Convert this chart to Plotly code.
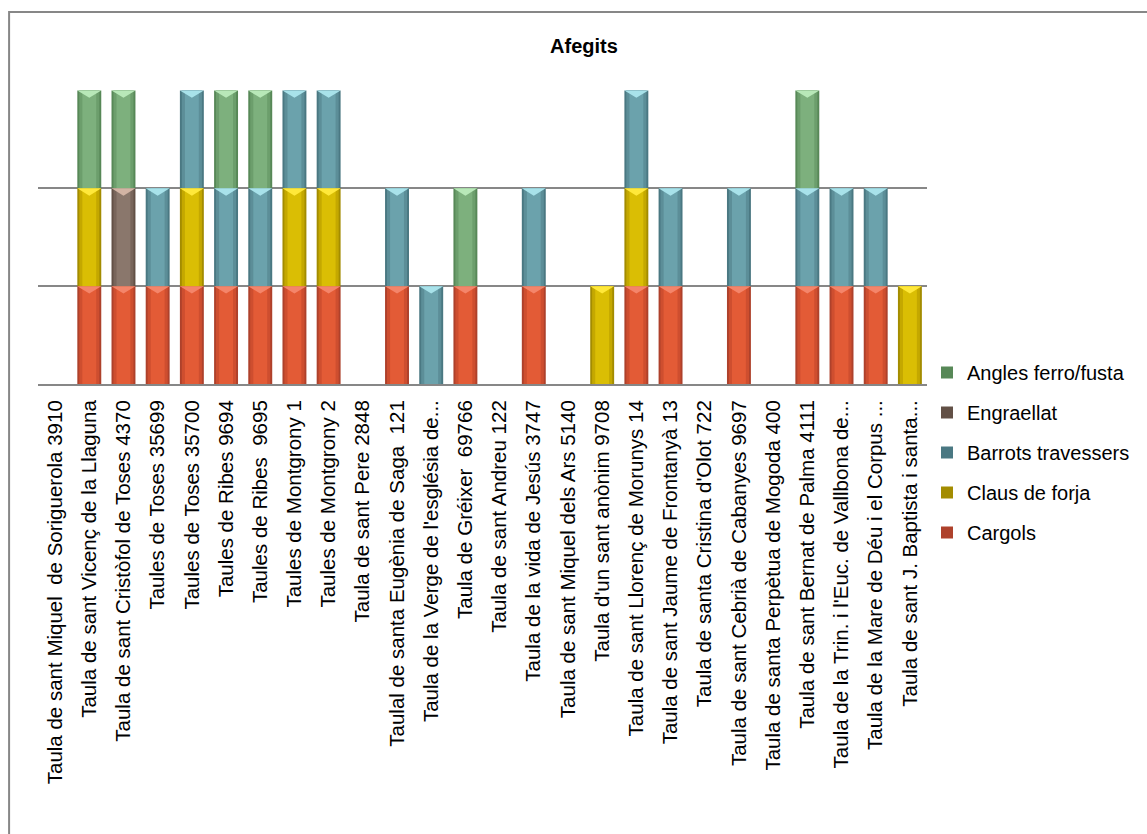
import plotly.graph_objects as go

categories = [
    "Taula de sant Miquel  de Soriguerola 3910",
    "Taula de sant Vicenç de la Llaguna",
    "Taula de sant Cristòfol de Toses 4370",
    "Taules de Toses 35699",
    "Taules de Toses 35700",
    "Taules de Ribes 9694",
    "Taules de Ribes  9695",
    "Taules de Montgrony 1",
    "Taules de Montgrony 2",
    "Taula de sant Pere 2848",
    "Taulal de santa Eugènia de Saga  121",
    "Taula de la Verge de l'església de...",
    "Taula de Gréixer  69766",
    "Taula de sant Andreu 122",
    "Taula de la vida de Jesús 3747",
    "Taula de sant Miquel dels Ars 5140",
    "Taula d'un sant anònim 9708",
    "Taula de sant Llorenç de Morunys 14",
    "Taula de sant Jaume de Frontanyà 13",
    "Taula de santa Cristina d'Olot 722",
    "Taula de sant Cebrià de Cabanyes 9697",
    "Taula de santa Perpètua de Mogoda 400",
    "Taula de sant Bernat de Palma 4111",
    "Taula de la Trin. i l'Euc. de Vallbona de...",
    "Taula de la Mare de Déu i el Corpus ...",
    "Taula de sant J. Baptista i santa...",
]

cargols = [0, 1, 1, 1, 1, 1, 1, 1, 1, 0, 1, 0, 1, 0, 1, 0, 0, 1, 1, 0, 1, 0, 1, 1, 1, 0]
claus_de_forja = [0, 1, 0, 0, 1, 0, 0, 1, 1, 0, 0, 0, 0, 0, 0, 0, 1, 1, 0, 0, 0, 0, 0, 0, 0, 1]
barrots_travessers = [0, 0, 0, 1, 1, 1, 1, 1, 1, 0, 1, 1, 0, 0, 1, 0, 0, 1, 1, 0, 1, 0, 1, 1, 1, 0]
engraellat = [0, 0, 1, 0, 0, 0, 0, 0, 0, 0, 0, 0, 0, 0, 0, 0, 0, 0, 0, 0, 0, 0, 0, 0, 0, 0]
angles_ferro_fusta = [0, 1, 1, 0, 0, 1, 1, 0, 0, 0, 0, 0, 1, 0, 0, 0, 0, 0, 0, 0, 0, 0, 1, 0, 0, 0]

# stacking order, bottom to top
series = [
    ("Cargols", cargols),
    ("Claus de forja", claus_de_forja),
    ("Barrots travessers", barrots_travessers),
    ("Engraellat", engraellat),
    ("Angles ferro/fusta", angles_ferro_fusta),
]

# edge, mid, centre, top bevel
palette = {
    "Cargols": ("#AE412B", "#CE4E2F", "#E35B36", "#F4856A"),
    "Claus de forja": ("#A38C00", "#C4A800", "#DABE04", "#FFE83A"),
    "Barrots travessers": ("#4A7882", "#5C8E98", "#6BA2AC", "#A8E2EA"),
    "Engraellat": ("#625046", "#78655B", "#8A776C", "#D2B4A4"),
    "Angles ferro/fusta": ("#578857", "#6C9E6C", "#7DB07D", "#B8E8B8"),
}

FONT = "Liberation Sans, Arial, sans-serif"
BAR_W = 0.70
BEVEL_H = 0.075

idx = list(range(len(categories)))
n_series = len(series)
fig = go.Figure()

cum = [0] * len(categories)
for k, (name, vals) in enumerate(series):
    edge, mid, centre, bevel = palette[name]
    rank = n_series - k  # top of the stack listed first in the legend
    xs = [i for i in idx if vals[i] > 0]
    ys = [vals[i] for i in xs]
    bases = [cum[i] for i in xs]
    # shaded bar body: outer edge first, lighter core on top
    for w, col, leg in ((BAR_W, edge, True), (BAR_W * 0.84, mid, False), (BAR_W * 0.58, centre, False)):
        fig.add_trace(go.Bar(
            x=xs if xs else [None], y=ys if ys else [None], base=bases if bases else None,
            width=w, name=name, legendgroup=name, legendrank=rank, showlegend=leg,
            marker=dict(color=col, line=dict(width=0)),
            hoverinfo="skip" if not leg else None,
        ))
    # light chevron at the top of every segment
    px, py = [], []
    for i in xs:
        top = cum[i] + vals[i]
        px += [i - BAR_W / 2, i + BAR_W / 2, i, i - BAR_W / 2, None]
        py += [top, top, top - BEVEL_H, top, None]
    if px:
        fig.add_trace(go.Scatter(
            x=px, y=py, mode="lines", fill="toself", fillcolor=bevel,
            line=dict(width=0, color=bevel), showlegend=False,
            legendgroup=name, legendrank=rank, hoverinfo="skip",
        ))
    for i in idx:
        cum[i] += vals[i]

fig.update_layout(
    width=1147, height=834,
    barmode="overlay",
    paper_bgcolor="white", plot_bgcolor="white",
    margin=dict(l=38, r=217, t=90, b=450),
    font=dict(family=FONT, size=20, color="black"),
    title=dict(text="<b>Afegits</b>", x=584 / 1147, xref="container", xanchor="center",
               y=1 - 46 / 834, yref="container", yanchor="middle",
               font=dict(family=FONT, size=20, color="black")),
    legend=dict(
        x=1.0, xanchor="left", y=(384 - 353) / 294, yanchor="top",
        traceorder="grouped", tracegroupgap=11,
        font=dict(family=FONT, size=20, color="black"),
        bgcolor="rgba(0,0,0,0)", itemwidth=30,
    ),
    showlegend=True,
)

fig.update_xaxes(
    tickmode="array", tickvals=idx, ticktext=categories, tickangle=-90,
    range=[-0.5, len(categories) - 0.5], showgrid=False, zeroline=False,
    showline=True, linecolor="#878787", linewidth=2,
    ticks="outside", ticklen=6, tickcolor="rgba(0,0,0,0)",
    tickfont=dict(family=FONT, size=20.5, color="black"),
)
fig.update_yaxes(
    range=[0, 3.005], dtick=1, tick0=0, showticklabels=False,
    showgrid=True, gridcolor="#878787", gridwidth=2, zeroline=False, showline=False,
)

# outer chart frame
fig.add_shape(
    type="rect", xref="paper", yref="paper",
    x0=(9 - 38) / 892, x1=(1200 - 38) / 892,
    y0=(384 - 900) / 294, y1=(384 - 12) / 294,
    line=dict(color="#878787", width=2), fillcolor="rgba(0,0,0,0)", layer="below",
)

fig.write_html("out.html")
